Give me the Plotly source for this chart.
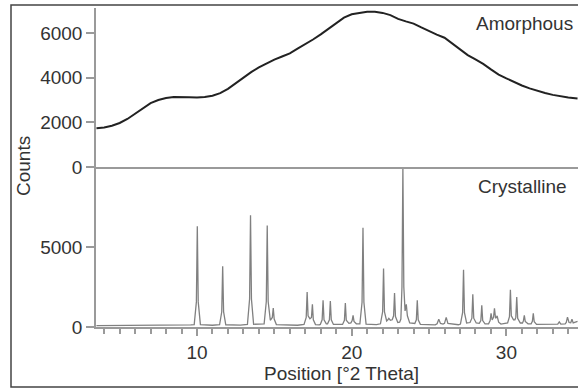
import plotly.graph_objects as go

# Amorphous pattern (counts vs 2-theta)
amorph_x = [3.5, 4.0, 4.5, 5.0, 5.5, 6.0, 6.5, 7.0, 7.5, 8.0, 8.5, 9.0, 9.5, 10.0, 10.5,
            11.0, 11.5, 12.0, 12.5, 13.0, 13.5, 14.0, 14.5, 15.0, 15.5, 16.0, 16.5, 17.0,
            17.5, 18.0, 18.5, 19.0, 19.5, 20.0, 20.5, 21.0, 21.5, 22.0, 22.5, 23.0, 23.5,
            24.0, 24.5, 25.0, 25.5, 26.0, 26.5, 27.0, 27.5, 28.0, 28.5, 29.0, 29.5, 30.0,
            30.5, 31.0, 31.5, 32.0, 32.5, 33.0, 33.5, 34.0, 34.6]
amorph_y = [1740, 1770, 1850, 1970, 2150, 2390, 2650, 2860, 3000, 3090, 3130, 3140, 3120, 3110, 3130,
            3190, 3310, 3500, 3760, 4010, 4250, 4460, 4640, 4810, 4950, 5090, 5300, 5500,
            5710, 5940, 6200, 6450, 6690, 6840, 6910, 6950, 6950, 6900, 6800, 6630, 6520,
            6420, 6250, 6080, 5930, 5790, 5540, 5260, 5010, 4820, 4620, 4370, 4140, 3970,
            3800, 3650, 3520, 3410, 3310, 3230, 3160, 3110, 3070]

# Crystalline pattern (counts vs 2-theta)
cryst_x = [3.5, 6.0, 9.0, 9.6,
           9.82, 9.96, 10.02, 10.08, 10.22, 11.0,
           11.46, 11.60, 11.66, 11.72, 11.86, 12.8,
           13.26, 13.40, 13.46, 13.52, 13.66, 14.2,
           14.34, 14.48, 14.54, 14.60, 14.74, 14.87, 14.93, 14.99, 15.13, 16.5,
           16.92, 17.06, 17.12, 17.18, 17.30, 17.40, 17.46, 17.52, 17.66, 17.9,
           17.97, 18.09, 18.15, 18.21, 18.36, 18.44, 18.56, 18.62, 18.68, 18.82, 19.3,
           19.41, 19.53, 19.59, 19.65, 19.82, 19.95, 20.03, 20.09, 20.15, 20.30,
           20.53, 20.67, 20.73, 20.79, 20.93, 21.6,
           21.86, 22.00, 22.06, 22.12, 22.26, 22.34, 22.40, 22.50,
           22.62, 22.71, 22.77, 22.83, 22.98, 23.1,
           23.18, 23.25, 23.31, 23.37, 23.45, 23.53, 23.60, 23.75, 24.0,
           24.08, 24.18, 24.24, 24.30, 24.44, 25.4,
           25.52, 25.63, 25.74, 25.9, 26.00, 26.11, 26.22, 26.9,
           27.03, 27.17, 27.23, 27.29, 27.43, 27.65, 27.77, 27.83, 27.89, 28.05,
           28.25, 28.35, 28.41, 28.47, 28.62, 28.85,
           28.95, 29.01, 29.08, 29.17, 29.23, 29.30, 29.36, 29.40, 29.50, 29.65, 29.95,
           30.08, 30.20, 30.26, 30.32, 30.46, 30.55, 30.61, 30.67, 30.73, 30.90,
           31.04, 31.10, 31.16, 31.22, 31.40, 31.60, 31.68, 31.74, 31.80, 31.95, 33.2,
           33.32, 33.42, 33.52, 33.8, 33.87, 33.95, 34.05, 34.16, 34.24, 34.32, 34.6]
cryst_y = [80, 85, 95, 130,
           150, 1570, 6290, 1570, 150, 110,
           140, 950, 3790, 950, 140, 120,
           160, 1750, 6980, 1750, 170, 160,
           200, 1590, 6350, 1590, 420, 600, 1190, 500, 150, 110,
           160, 600, 2190, 700, 520, 600, 1420, 450, 150, 130,
           160, 450, 1670, 450, 200, 200, 450, 1630, 450, 160, 130,
           160, 420, 1500, 420, 230, 260, 400, 730, 350, 200,
           200, 1550, 6210, 1550, 180, 150,
           200, 950, 3650, 950, 380, 450, 540, 420,
           450, 700, 2130, 650, 280, 300,
           500, 2500, 9950, 2500, 1000, 1420, 700, 250, 200,
           220, 450, 1670, 450, 170, 130,
           200, 480, 220, 180, 230, 600, 220, 140,
           180, 900, 3580, 900, 250, 280, 550, 2040, 550, 250,
           230, 400, 1350, 400, 200, 200,
           400, 850, 450, 600, 1170, 550, 600, 700, 300, 180, 200,
           250, 650, 2330, 700, 450, 450, 600, 1880, 550, 250,
           250, 380, 730, 350, 200, 200, 350, 850, 330, 160, 140,
           180, 320, 180, 200, 280, 620, 280, 260, 480, 260, 350]

top_ticks = [0, 2000, 4000, 6000]
bottom_ticks = [0, 5000]
x_ticks = [10, 20, 30]

FONT = "Liberation Sans, Arial, sans-serif"
FS = 19
AX = "#9a9a9a"
TXT = "#333333"

fig = go.Figure()
fig.add_trace(go.Scatter(x=amorph_x, y=amorph_y, mode="lines", xaxis="x2", yaxis="y2",
                         line=dict(color="#222222", width=2), showlegend=False))
fig.add_trace(go.Scatter(x=cryst_x, y=cryst_y, mode="lines", xaxis="x", yaxis="y",
                         line=dict(color="#808080", width=1.3), showlegend=False))

split = 160 / 319
xr = [3.471, 34.63]

fig.update_layout(
    width=578, height=390,
    margin=dict(l=96, r=0, t=8, b=63, autoexpand=False),
    paper_bgcolor="white", plot_bgcolor="white",
    font=dict(family=FONT, size=FS, color=TXT),
    xaxis=dict(domain=[0, 1], range=xr, anchor="y", showline=True, linecolor=AX, linewidth=1.5,
               showgrid=False, zeroline=False, tickmode="array", tickvals=x_ticks,
               ticks="outside", ticklen=7, tickcolor=AX, tickwidth=1.5,
               minor=dict(dtick=1, tick0=0, ticks="outside", ticklen=5, tickcolor=AX, tickwidth=1.5),
               tickfont=dict(family=FONT, size=FS, color=TXT)),
    xaxis2=dict(domain=[0, 1], range=xr, anchor="y2", matches="x", showline=True, linecolor=AX,
                linewidth=1.5, showgrid=False, zeroline=False, showticklabels=False, ticks=""),
    yaxis=dict(domain=[0, split], range=[0, 10000], showline=True, linecolor=AX, linewidth=1.5,
               showgrid=False, zeroline=False, tickmode="array", tickvals=bottom_ticks,
               ticks="outside", ticklen=8, tickcolor=AX, tickwidth=1.5,
               tickfont=dict(family=FONT, size=FS, color=TXT)),
    yaxis2=dict(domain=[split, 1], range=[0, 7120], anchor="x2", showline=True, linecolor=AX,
                linewidth=1.5, showgrid=False, zeroline=False, tickmode="array", tickvals=top_ticks,
                ticks="outside", ticklen=8, tickcolor=AX, tickwidth=1.5,
                tickfont=dict(family=FONT, size=FS, color=TXT)),
)

fig.add_shape(type="rect", xref="paper", yref="paper", x0=(11 - 96) / 482, x1=1.02,
              y0=(327 - 387) / 319, y1=1 + 3 / 319, line=dict(color="#444444", width=1.5),
              layer="below")

fig.add_annotation(text="Amorphous", xref="paper", yref="paper", x=(575 - 96) / 482,
                   y=(327 - 23) / 319, xanchor="right", yanchor="middle", showarrow=False,
                   font=dict(family=FONT, size=FS, color=TXT))
fig.add_annotation(text="Crystalline", xref="paper", yref="paper", x=(569 - 96) / 482,
                   y=(327 - 187) / 319, xanchor="right", yanchor="middle", showarrow=False,
                   font=dict(family=FONT, size=FS, color=TXT))
fig.add_annotation(text="Counts", xref="paper", yref="paper", x=(23.5 - 96) / 482,
                   y=(327 - 166.5) / 319, xanchor="center", yanchor="middle", textangle=-90,
                   showarrow=False, font=dict(family=FONT, size=FS, color=TXT))
fig.add_annotation(text="Position [°2 Theta]", xref="paper", yref="paper", x=(341 - 96) / 482,
                   y=(327 - 373) / 319, xanchor="center", yanchor="middle", showarrow=False,
                   font=dict(family=FONT, size=FS, color=TXT))

fig.write_html("out.html", config={"displayModeBar": False},
               post_script="document.body.style.margin='0';")
